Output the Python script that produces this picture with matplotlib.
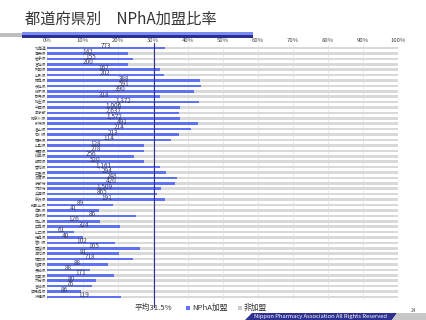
import numpy as np
import matplotlib
matplotlib.use('Agg')
import matplotlib.pyplot as plt
from matplotlib.patches import Rectangle, Polygon

plt.rcParams['font.family'] = ['Noto Sans CJK JP', 'DejaVu Sans']

# data
prefectures = ['北海道', '青森県', '岩手県', '宮城県', '秋田県', '山形県', '福島県', '茨城県',
               '栃木県', '群馬県', '埼玉県', '千葉県', '東京都', '神奈川県', '新潟県', '富山県',
               '石川県', '福井県', '山梨県', '長野県', '岐阜県', '静岡県', '愛知県', '三重県',
               '滋賀県', '京都府', '大阪府', '兵庫県', '奈良県', '和歌山県', '鳥取県', '島根県',
               '岡山県', '広島県', '山口県', '徳島県', '香川県', '愛媛県', '高知県', '福岡県',
               '佐賀県', '長崎県', '熊本県', '大分県', '宮崎県', '鹿児島県', '沖縄県']
member_pct = [33.6, 22.9, 24.5, 23.1, 32.1, 33.1, 43.6, 43.8,
              41.7, 32.1, 43.1, 37.9, 37.6, 37.9, 42.8, 41.0,
              37.6, 35.1, 27.5, 27.5, 24.6, 27.4, 32.1, 33.9,
              37.0, 36.3, 32.5, 31.2, 33.6, 18.8, 14.7, 25.3,
              15.0, 20.7, 7.7, 10.0, 19.3, 26.3, 20.3, 24.3,
              17.2, 12.1, 19.0, 13.8, 12.8, 9.6, 20.9]
member_count = [773, 142, 155, 200, 167, 202, 388, 591,
                390, 318, 1372, 1006, 2637, 1572, 491, 214,
                213, 114, 128, 278, 256, 520, 1161, 294,
                248, 420, 1509, 865, 191, 89, 41, 86,
                126, 324, 61, 40, 102, 165, 81, 718,
                88, 88, 171, 80, 76, 86, 119]
avg_pos = 30.5
avg_label = '平均31.5%'

blue = '#5f73f2'
gray = '#d9d9d9'
navy = '#2e3192'

fig = plt.figure(figsize=(4.27, 3.2), dpi=100)
W, H = 427.0, 320.0

# title and decoration bands
fig.text(25 / W, 1 - 19 / H, '都道府県別　NPhA加盟比率', fontsize=11,
         color='#333333', va='center', ha='left')
fig.patches.append(Rectangle((0, 1 - 37 / H), 22 / W, 4 / H, transform=fig.transFigure,
                             color='#bfbfbf', lw=0))
fig.patches.append(Rectangle((22 / W, 1 - 34.5 / H), 231 / W, 2.3 / H, transform=fig.transFigure,
                             color='#7b8cf5', lw=0))
fig.patches.append(Rectangle((22 / W, 1 - 37.5 / H), 231 / W, 2.3 / H, transform=fig.transFigure,
                             color='#2b2f8f', lw=0))

ax = fig.add_axes([47.5 / W, 1 - 299.7 / H, 350.5 / W, 254.4 / H])
y = np.arange(len(prefectures))
pct = np.array(member_pct)
ax.barh(y, pct, height=0.48, color=blue, zorder=2)
ax.barh(y, 100 - pct, left=pct, height=0.48, color=gray, zorder=2)

for yi, p, c in zip(y, pct, member_count):
    ax.text(p / 2, yi - 0.35, f'{c:,}', ha='center', va='center', fontsize=4.6,
            color='#3a3a55', zorder=4)

ax.set_xlim(0, 100)
ax.set_ylim(len(prefectures) - 0.5, -0.5)
ax.set_yticks(y)
ax.set_yticklabels(prefectures, fontsize=2.8, color='#444444')
ax.set_xticks(np.arange(0, 101, 10))
ax.set_xticklabels([f'{v}%' for v in range(0, 101, 10)], fontsize=4.3, color='#444444')
ax.xaxis.tick_top()
ax.tick_params(length=0, pad=1)
ax.tick_params(axis='x', pad=1.5)
for s in ax.spines.values():
    s.set_visible(False)
ax.grid(axis='x', color='#e6e6e6', lw=0.6, zorder=0)

ax.plot([avg_pos, avg_pos], [-1.0, len(prefectures) + 0.8], color=navy, lw=0.8,
        clip_on=False, zorder=3)

# legend row
fig.text(135 / W, 1 - 308 / H, avg_label, fontsize=5.6, color='#333333', va='center')
fig.patches.append(Rectangle((186 / W, 1 - 310 / H), 4 / W, 4 / H, transform=fig.transFigure,
                             color=blue, lw=0))
fig.text(192 / W, 1 - 308 / H, 'NPhA加盟', fontsize=5.6, color='#333333', va='center')
fig.patches.append(Rectangle((238 / W, 1 - 310 / H), 4 / W, 4 / H, transform=fig.transFigure,
                             color='#cccccc', lw=0))
fig.text(244 / W, 1 - 308 / H, '非加盟', fontsize=5.6, color='#333333', va='center')

# footer banner
fig.patches.append(Polygon([(245 / W, 0), (392 / W, 0), (397 / W, 7 / H), (252 / W, 7 / H)],
                           closed=True, transform=fig.transFigure, color=navy, lw=0))
fig.patches.append(Polygon([(392 / W, 0), (1, 0), (1, 7 / H), (397 / W, 7 / H)],
                           closed=True, transform=fig.transFigure, color='#c8c8c8', lw=0))
fig.text(320 / W, 3.5 / H, 'Nippon Pharmacy Association All Rights Reserved', fontsize=4.2,
         color='white', ha='center', va='center')
fig.text(414 / W, 1 - 311 / H, '24', fontsize=3.5, color='#555555', ha='center', va='center')

fig.savefig('out.png', dpi=100)
